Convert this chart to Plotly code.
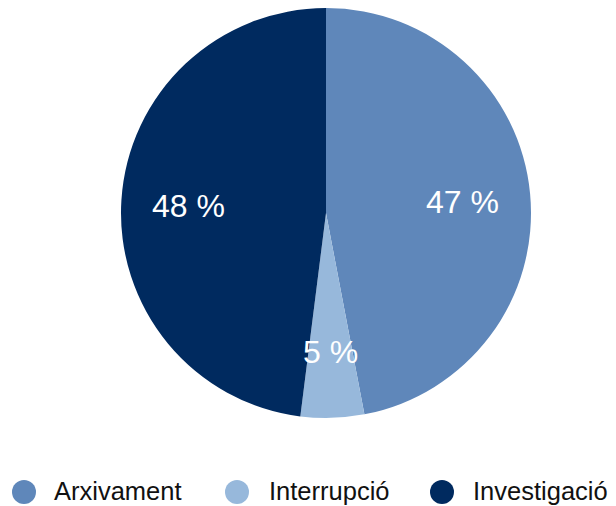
import math
import plotly.graph_objects as go

categories = ["Arxivament", "Interrupció", "Investigació"]
values = [47, 5, 48]
colors = ["#5f87ba", "#97b8db", "#002a5f"]

W, H = 616, 506
# page body adds an 8px offset; layout coordinates below are figure-relative
cx, cy, r = 318, 205, 205
FONT = "Liberation Sans, Arial, Helvetica, sans-serif"

fig = go.Figure()
fig.add_trace(go.Pie(
    labels=categories, values=values, sort=False, direction="clockwise",
    rotation=0, marker=dict(colors=colors, line=dict(width=0)),
    textinfo="none", hoverinfo="label+percent", showlegend=False,
    domain=dict(x=[(cx - r) / W, (cx + r) / W], y=[1 - (cy + r) / H, 1 - (cy - r) / H]),
))

# percentage labels at slice mid-angles
total = sum(values)
cum = 0
annotations = []
for cat, v in zip(categories, values):
    mid = (cum + v / 2) / total * 2 * math.pi
    cum += v
    rr = 0.67 * r
    annotations.append(dict(
        x=cx + rr * math.sin(mid), y=cy - rr * math.cos(mid) + 2,
        xref="x", yref="y", xanchor="center", yanchor="middle",
        text=f"{round(v / total * 100)} %", showarrow=False,
        font=dict(size=32, color="white", family=FONT),
    ))

# custom legend with large circle markers
legend_marker_x = [16, 229, 434]
legend_text_x = [44, 259, 463]
legend_y = 483
fig.add_trace(go.Scatter(
    x=legend_marker_x, y=[legend_y + 1] * len(categories), mode="markers",
    marker=dict(size=24, color=colors, symbol="circle"),
    showlegend=False, hoverinfo="skip", cliponaxis=False,
))
for cat, tx in zip(categories, legend_text_x):
    annotations.append(dict(
        x=tx, y=legend_y, xref="x", yref="y", xanchor="left", yanchor="middle",
        text=cat, showarrow=False,
        font=dict(size=25.5, color="#111111", family=FONT),
    ))

fig.update_layout(
    width=W, height=H,
    margin=dict(l=0, r=0, t=0, b=0),
    paper_bgcolor="white", plot_bgcolor="white",
    xaxis=dict(visible=False, range=[0, W], domain=[0, 1], fixedrange=True),
    yaxis=dict(visible=False, range=[H, 0], domain=[0, 1], fixedrange=True),
    annotations=annotations,
    showlegend=False,
)

fig.write_html("out.html")
